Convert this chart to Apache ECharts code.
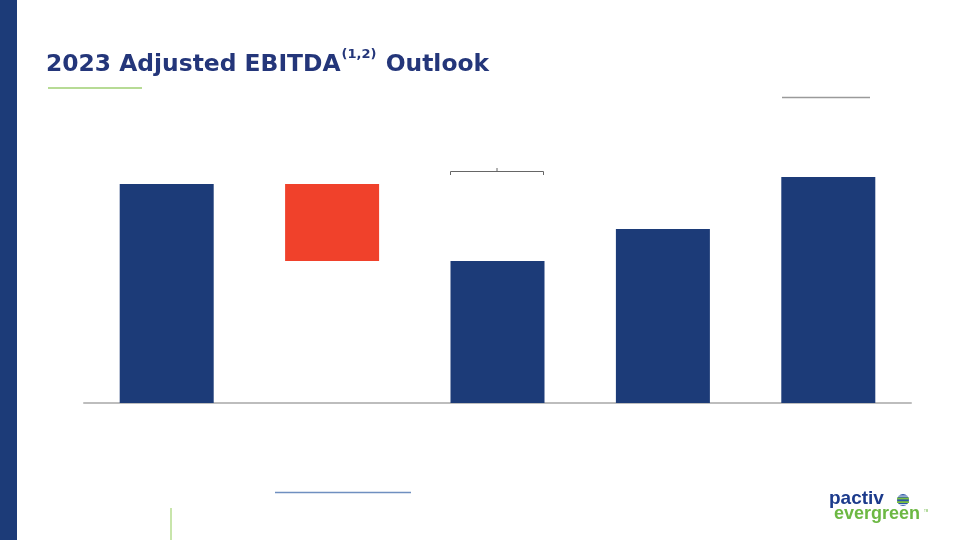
<!DOCTYPE html>
<html>
<head>
<meta charset="utf-8">
<script src="https://cdn.jsdelivr.net/npm/echarts@6/dist/echarts.min.js"></script>
<style>html,body{margin:0;padding:0;background:#fff;}#c{width:960px;height:540px;}</style>
</head>
<body>
<div id="c"></div>
<script>
// Waterfall steps (values in $M)
const categories = ['2022 Adjusted EBITDA', 'Divestitures', '2022 Base', 'Operations', '2023 Outlook'];
const baseValues = [0, 568, 0, 0, 0];
const stepValues = [876, 308, 568, 696, 904];
const stepKinds = ['total', 'decrease', 'total', 'total', 'total'];

const NAVY = '#1c3b78';
const RED = '#f0412b';
const TITLE_FONT = 'DejaVu Sans, Liberation Sans, Arial, sans-serif';
const LOGO_FONT = 'Liberation Sans, Arial, sans-serif';

const chart = echarts.init(document.getElementById('c'), null, {renderer: 'canvas'});
chart.setOption({
  animation: false,
  backgroundColor: '#ffffff',
  grid: {left: 84, right: 49, top: 103, bottom: 137},
  xAxis: {
    type: 'category',
    data: categories,
    axisLine: {lineStyle: {color: '#bdbdbd', width: 2}},
    axisTick: {show: false},
    axisLabel: {show: false}
  },
  yAxis: {type: 'value', min: 0, max: 1200, show: false, splitLine: {show: false}},
  series: [
    {type: 'bar', stack: 'w', data: baseValues, barWidth: 94,
     itemStyle: {color: 'rgba(0,0,0,0)'}, silent: true},
    {type: 'bar', stack: 'w', barWidth: 94,
     data: stepValues.map((v, i) => ({value: v, itemStyle: {color: stepKinds[i] === 'decrease' ? RED : NAVY}}))}
  ],
  graphic: [
    {type: 'rect', shape: {x: 0, y: 0, width: 17, height: 540}, style: {fill: NAVY}},
    {type: 'text', left: 46, top: 48, style: {
      text: '{t|2023 Adjusted EBITDA}{s|(1,2)}{t| Outlook}',
      rich: {
        t: {fontFamily: TITLE_FONT, fontWeight: 'bold', fontSize: 23.4, fill: '#24367a', verticalAlign: 'bottom', lineHeight: 28},
        s: {fontFamily: TITLE_FONT, fontWeight: 'bold', fontSize: 13, fill: '#24367a', verticalAlign: 'top', lineHeight: 28, padding: [0, 1, 12, 1]}
      }
    }},
    {type: 'line', shape: {x1: 48, y1: 88, x2: 142, y2: 88}, style: {stroke: '#9fcf72', lineWidth: 1.5}},
    {type: 'line', shape: {x1: 782, y1: 97.5, x2: 870, y2: 97.5}, style: {stroke: '#9a9a9a', lineWidth: 1.5}},
    {type: 'polyline', shape: {points: [[450.5, 175], [450.5, 171.5], [543.5, 171.5], [543.5, 175]]}, style: {stroke: '#666', lineWidth: 1, fill: null}},
    {type: 'line', shape: {x1: 497, y1: 171.5, x2: 497, y2: 168}, style: {stroke: '#666', lineWidth: 1}},
    {type: 'line', shape: {x1: 275, y1: 492.5, x2: 411, y2: 492.5}, style: {stroke: '#6f8fc0', lineWidth: 1.5}},
    {type: 'line', shape: {x1: 171, y1: 508, x2: 171, y2: 540}, style: {stroke: '#b6dc8f', lineWidth: 1.5}},
    {type: 'text', left: 829, top: 489, style: {text: 'pactiv', fontFamily: LOGO_FONT, fontWeight: 'bold', fontSize: 19, fill: '#1c3b8c'}},
    {type: 'circle', shape: {cx: 903, cy: 500, r: 6}, style: {fill: '#2b56a6'}},
    {type: 'rect', shape: {x: 897, y: 497.6, width: 12, height: 1.8}, style: {fill: '#7cc142'}},
    {type: 'rect', shape: {x: 897, y: 501.2, width: 12, height: 1.8}, style: {fill: '#7cc142'}},
    {type: 'rect', shape: {x: 897, y: 495.6, width: 12, height: 0.9}, style: {fill: '#ffffff'}},
    {type: 'rect', shape: {x: 897, y: 504.2, width: 12, height: 0.9}, style: {fill: '#ffffff'}},
    {type: 'text', left: 834, top: 505, style: {text: 'evergreen', fontFamily: LOGO_FONT, fontWeight: 'bold', fontSize: 18, fill: '#6cb843'}},
    {type: 'text', left: 924, top: 510, style: {text: 'TM', fontFamily: LOGO_FONT, fontSize: 3, fill: '#6cb843'}}
  ]
});
</script>
</body>
</html>
